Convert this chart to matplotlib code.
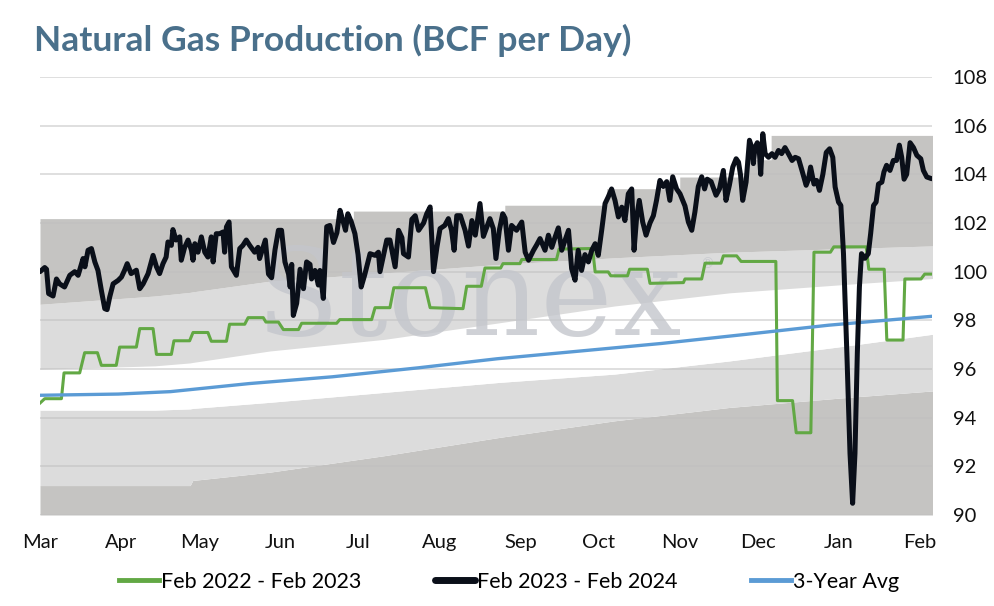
import matplotlib
matplotlib.use("Agg")
import matplotlib.pyplot as plt
from matplotlib.lines import Line2D
import numpy as np
import pandas as pd

# ---------------- data ----------------
start = pd.Timestamp("2023-03-01")
end_day = 341.6

months = ["Mar", "Apr", "May", "Jun", "Jul", "Aug", "Sep", "Oct", "Nov", "Dec", "Jan", "Feb"]
y_ticks = [90, 92, 94, 96, 98, 100, 102, 104, 106, 108]

# historical range bands (days since Mar 1)
band_days = [0, 44, 57.5, 58.5, 88, 132, 176, 220, 264, 309, 342]
band_min = [91.21, 91.21, 91.21, 91.42, 91.76, 92.44, 93.19, 93.87, 94.42, 94.83, 95.10]
band_low = [94.31, 94.31, 94.36, 94.38, 94.63, 95.04, 95.45, 95.79, 96.33, 96.95, 97.43]
band_mid = [95.99, 96.13, 96.25, 96.27, 96.74, 97.22, 97.90, 98.59, 99.13, 99.48, 99.72]
band_high = [98.66, 99.00, 99.15, 99.17, 99.61, 99.95, 100.30, 100.57, 100.80, 100.95, 101.06]
max_days = [0, 120, 178, 217, 245, 270, 280, 342]
max_vals = [102.18, 102.49, 102.73, 103.41, 103.89, 104.60, 105.60, 105.60]

# Feb 2023 - Feb 2024 (black)
black_day = [0, 1.8, 2.5, 3.3, 5, 6.3, 7.5, 9.4, 11.4, 13.3, 14.6, 16.5, 17.2, 18.4, 19.7, 21, 22.2, 23.5,
             24.8, 25.7, 26.7, 28, 29.9, 31.2, 32.4, 33.4, 34.9, 36.9, 38.2, 39.5, 41.4, 43.3, 44.6, 45.8,
             47.1, 48.3, 49, 50.3, 50.9, 52.1, 53.5, 54.1, 55.4, 56.7, 58, 58.6, 59.3, 60.5, 61.8, 63.1,
             64.3, 65.6, 66.3, 67.5, 68.8, 70.1, 70.7, 71.4, 72.4, 73.3, 75.2, 76.5, 77.7, 79, 80.3, 82.2,
             83.5, 84.1, 86.3, 87.5, 88.7, 90, 91.3, 92.5, 93.8, 95.2, 95.8, 96.4, 97, 98.3, 99.6, 100.9,
             102.1, 103.4, 104, 105.3, 106.6, 107.2, 108.5, 109.8, 111, 112.4, 113.7, 114.9, 116, 117,
             117.9, 119.2, 120.6, 121.8, 123, 124.3, 126.4, 128.3, 129.6, 130.2, 131.4, 132.8, 134, 136,
             137.3, 138.6, 139.2, 141.1, 142.4, 143.7, 145, 146.9, 148.1, 149.4, 150.7, 152, 153.2, 155,
             156.4, 157.6, 158.6, 159.6, 161, 162.8, 164.1, 165.4, 166.7, 168.5, 169.8, 171, 172.3, 173.6,
             174.6, 175.9, 177.2, 178.1, 179.4, 180.6, 182.5, 184.5, 185.8, 187.1, 189, 190.2, 191.5,
             193.4, 194.7, 196, 197.2, 198.5, 199.8, 201.1, 202.4, 203.6, 204.9, 206.1, 207.4, 208.7, 210,
             211.3, 212.6, 213.8, 215.1, 216.4, 217.6, 218.9, 220.2, 221.5, 222.8, 224, 225.3, 226.6,
             227.5, 228.5, 229.5, 230.8, 232.1, 233.6, 234.9, 236.1, 237.4, 238.7, 240, 241.2, 242.3,
             243.8, 245.1, 247, 248.3, 249.6, 250.8, 252.1, 253.4, 254.5, 255.5, 257, 258.9, 260.2, 261.7,
             262.7, 264, 265.3, 266.6, 267.5, 268.3, 269.1, 270.4, 271.7, 272.6, 273.2, 273.8, 274.7,
             275.5, 276, 276.8, 277.7, 279, 280.3, 281.5, 282.8, 284, 285.3, 286.6, 288, 289.2, 290.5,
             291.8, 293.4, 294.3, 295.1, 296.4, 297.4, 298.5, 299.8, 301.1, 302.4, 303.6, 304.5, 305.8,
             306.7, 307.7, 309, 310.2, 311.2, 312.1, 313, 313.8, 314.6, 315.9, 317.2, 318.1, 319.2, 320.2,
             321.1, 322.4, 323.2, 324.2, 325.5, 326.8, 328, 329.1, 330, 330.9, 331.9, 333.2, 334.5, 335.8,
             337.3, 338.3, 339.6, 341.5]
black_val = [100.0, 100.17, 100.1, 99.1, 99.0, 99.7, 99.5, 99.37, 99.85, 100.0, 99.85, 100.54, 100.2, 100.88,
             100.95, 100.4, 100.05, 99.23, 98.48, 98.44, 98.96, 99.5, 99.64, 99.78, 100.06, 100.33, 99.92,
             100.06, 99.3, 99.5, 99.92, 100.67, 100.2, 99.92, 100.33, 100.6, 101.22, 101.08, 101.73, 101.3,
             101.43, 100.47, 101.0, 101.3, 100.88, 100.47, 101.15, 100.8, 101.43, 100.8, 100.6, 101.43,
             100.4, 101.56, 101.56, 101.63, 100.8, 101.84, 102.04, 100.2, 99.85, 100.95, 101.08, 101.3,
             101.08, 100.8, 101.0, 100.54, 101.3, 99.9, 99.75, 100.9, 101.7, 101.7, 100.4, 99.9, 99.37,
             100.3, 98.2, 98.7, 100.1, 99.3, 100.4, 100.3, 99.7, 100.05, 99.45, 100.05, 98.9, 101.85, 101.9,
             101.2, 101.6, 102.52, 102.1, 101.7, 102.38, 102.05, 101.56, 100.7, 99.37, 99.85, 100.74,
             100.67, 100.8, 100.0, 100.6, 101.3, 101.3, 100.2, 101.7, 101.4, 100.74, 100.6, 102.15, 102.3,
             101.7, 102.0, 102.38, 102.66, 100.0, 101.0, 101.77, 101.9, 102.18, 101.7, 100.88, 102.3, 102.3,
             101.7, 101.05, 102.1, 101.5, 102.8, 101.45, 101.8, 102.18, 101.77, 100.54, 101.7, 102.38,
             102.2, 100.88, 101.9, 101.7, 102.04, 100.8, 100.47, 100.88, 101.1, 101.36, 100.88, 101.5,
             101.0, 101.4, 101.8, 100.88, 101.3, 101.7, 100.12, 99.65, 100.88, 100.05, 100.7, 100.4, 100.88,
             101.15, 100.67, 101.7, 102.8, 103.07, 103.4, 102.93, 102.25, 102.65, 102.1, 103.2, 103.4,
             100.88, 102.25, 102.93, 102.04, 101.5, 102.0, 102.3, 102.93, 103.75, 103.5, 103.7, 102.93,
             103.9, 103.4, 103.2, 102.7, 102.04, 101.7, 102.45, 103.5, 103.9, 103.4, 103.8, 103.7, 103.14,
             103.4, 104.16, 102.93, 103.55, 104.3, 104.64, 104.5, 103.96, 102.93, 103.68, 105.4, 105.1,
             104.44, 105.1, 105.3, 104.9, 104.0, 105.67, 104.85, 104.7, 104.85, 104.7, 104.98, 104.85,
             105.1, 104.85, 104.57, 104.7, 104.64, 104.16, 103.55, 103.8, 104.3, 103.6, 103.75, 103.34,
             104.0, 104.9, 105.05, 104.7, 103.48, 102.86, 102.72, 100.74, 96.64, 92.53, 90.48, 92.53,
             96.64, 99.37, 100.74, 100.55, 100.74, 101.56, 102.72, 102.86, 103.6, 103.68, 104.1, 104.37,
             104.16, 104.57, 104.57, 105.2, 104.7, 103.8, 104.0, 105.3, 105.1, 104.78, 104.64, 104.16,
             103.89, 103.82]

# Feb 2022 - Feb 2023 (green)
green_day = [0, 1.8, 8.2, 9.2, 15.2, 17.1, 22, 23.5, 29.2, 30.5, 36.9, 38.2, 43.3, 44.6, 50.3, 51.3, 57.3,
             58.6, 64.3, 65.6, 71.4, 72.6, 78.4, 79.7, 85.5, 86.5, 91.3, 93.2, 99, 100.2, 113.6, 114.8, 127,
             128.3, 134, 135.5, 147.6, 149.4, 155, 162, 163.4, 169, 170.4, 176.4, 177.3, 183.8, 184.5, 197.8,
             198.8, 211.6, 212.6, 217.6, 218.6, 225, 225.8, 232.6, 233.6, 246.4, 247, 253.4, 254.7, 260.8,
             261.7, 266.8, 268.5, 281.8, 282.4, 288.2, 289.6, 295.2, 296.4, 302.7, 304, 316.4, 317.4, 323.3,
             324.3, 330.5, 331.2, 337.4, 338.8, 341.6]
green_val = [94.6, 94.78, 94.78, 95.84, 95.84, 96.67, 96.67, 96.15, 96.15, 96.9, 96.9, 97.66, 97.66, 96.6,
             96.6, 97.16, 97.16, 97.5, 97.5, 97.14, 97.14, 97.84, 97.84, 98.11, 98.11, 97.93, 97.93, 97.62,
             97.62, 97.88, 97.88, 98.03, 98.03, 98.52, 98.52, 99.34, 99.34, 98.52, 98.5, 98.48, 99.4, 99.4,
             100.15, 100.15, 100.33, 100.33, 100.5, 100.5, 100.93, 100.95, 99.99, 99.99, 99.83, 99.83, 100.1,
             100.1, 99.52, 99.55, 99.7, 99.7, 100.35, 100.35, 100.65, 100.65, 100.42, 100.42, 94.7, 94.7,
             93.38, 93.38, 100.8, 100.8, 101.02, 101.02, 100.1, 100.1, 97.19, 97.19, 99.7, 99.7, 99.9, 99.9]

# 3-year average (blue)
avg_day = [0, 30, 50, 80, 112, 145, 175, 205, 238, 270, 302, 342]
avg_val = [94.92, 94.97, 95.07, 95.40, 95.68, 96.05, 96.42, 96.72, 97.05, 97.42, 97.80, 98.17]

labels = ["Feb 2022 - Feb 2023", "Feb 2023 - Feb 2024", "3-Year Avg"]

# ---------------- styling ----------------
C_DARK = "#c5c4c2"
C_LIGHT = "#dcdcdc"
C_GREEN = "#62a844"
C_BLACK = "#0a0f19"
C_BLUE = "#5b9bd5"
C_TITLE = "#4a708b"

plt.rcParams["font.family"] = ["Lato", "DejaVu Sans"]


def to_dates(days):
    return start + pd.to_timedelta(np.asarray(days, dtype=float), unit="D")


fig = plt.figure(figsize=(9.94, 6.06), dpi=100)
ax = fig.add_axes([40 / 994, 1 - 515 / 606, 892 / 994, 438 / 606])

bd = to_dates(band_days)
ax.fill_between(bd, 90, band_min, color=C_DARK, lw=0, zorder=1)
ax.fill_between(bd, band_min, band_low, color=C_LIGHT, lw=0, zorder=1)
ax.fill_between(bd, band_low, band_mid, color="white", lw=0, zorder=1)
ax.fill_between(bd, band_mid, band_high, color=C_LIGHT, lw=0, zorder=1)
# top band: between interpolated high and stepped max
fine_days = np.union1d(np.array(band_days, dtype=float), np.array(max_days, dtype=float))
fine_days = np.union1d(fine_days, np.array(max_days[1:-1], dtype=float) - 0.01)
high_i = np.interp(fine_days, band_days, band_high)
max_i = np.array(max_vals)[np.searchsorted(max_days, fine_days, side="right") - 1]
ax.fill_between(to_dates(fine_days), high_i, max_i, color=C_DARK, lw=0, zorder=1)

# gridlines
for yv in y_ticks:
    ax.axhline(yv, color="#bfbfbf", alpha=0.55, lw=1.3, zorder=2)

# watermark
ax.text(0.481, 0.411, "Stonex", transform=ax.transAxes, ha="center", va="baseline",
        fontsize=88, family="DejaVu Serif", color="#c4c6cc", alpha=0.8, zorder=3)
ax.text(0.748, 0.572, "®", transform=ax.transAxes, ha="center", va="center",
        fontsize=10, family="DejaVu Serif", color="#c4c6cc", alpha=0.8, zorder=3)

ax.plot(to_dates(green_day), green_val, color=C_GREEN, lw=2.2, zorder=4, solid_joinstyle="round")
ax.plot(to_dates(avg_day), avg_val, color=C_BLUE, lw=2.4, zorder=5)
ax.plot(to_dates(black_day), black_val, color=C_BLACK, lw=3.6, zorder=6, solid_joinstyle="round",
        solid_capstyle="round")

ax.set_ylim(90, 108)
ax.set_xlim(to_dates([0])[0], to_dates([end_day])[0])
ax.yaxis.tick_right()
ax.set_yticks(y_ticks)
ax.set_yticklabels([str(v) for v in y_ticks])
ax.set_xticks(pd.date_range("2023-03-01", periods=12, freq="MS"))
ax.set_xticklabels(months)
ax.tick_params(axis="y", length=0, pad=15, labelsize=14.5, labelcolor="#111111")
ax.tick_params(axis="x", length=0, pad=14, labelsize=14.5, labelcolor="#111111")
for s in ax.spines.values():
    s.set_visible(False)

fig.text(34 / 994, 1 - 40 / 606, "Natural Gas Production (BCF per Day)", ha="left", va="center",
         fontsize=25.5, fontweight="bold", color=C_TITLE)

handles = [Line2D([], [], color=C_GREEN, lw=3.5),
           Line2D([], [], color=C_BLACK, lw=5, solid_capstyle="round"),
           Line2D([], [], color=C_BLUE, lw=3.5)]
fig.legend(handles, labels, loc="center", bbox_to_anchor=(0.512, 1 - 582 / 606), ncol=3, frameon=False,
           fontsize=15.5, handlelength=1.86, handletextpad=0.1, columnspacing=3.4)

fig.savefig("out.png", dpi=100)
